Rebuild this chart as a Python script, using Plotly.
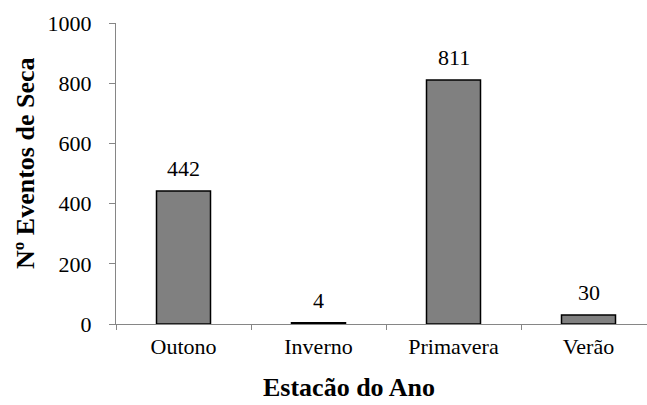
import plotly.graph_objects as go

# Drought events per season
seasons = ["Outono", "Inverno", "Primavera", "Verão"]
events = [442, 4, 811, 30]
y_ticks = [0, 200, 400, 600, 800, 1000]

W, H = 647, 405
L, R, T, B = 116, 0, 23, 81
plot_w = W - L - R
plot_h = H - T - B

FONT = '"Liberation Serif", "Times New Roman", serif'
AXIS_GRAY = "#868686"

fig = go.Figure()
fig.add_trace(go.Bar(
    x=seasons,
    y=events,
    width=0.4,
    marker=dict(color="#808080", line=dict(color="#000000", width=1.5)),
    hoverinfo="x+y",
))

# value labels above each bar
for s, v in zip(seasons, events):
    fig.add_annotation(
        x=s, y=v, text=str(v), showarrow=False,
        yanchor="bottom", yshift=8,
        font=dict(family=FONT, size=22, color="#000000"),
    )


def px_to_paper_x(px):
    return (px - L) / plot_w


def px_to_paper_y(py):
    return (H - B - py) / plot_h


# axis titles
fig.add_annotation(
    x=px_to_paper_x(349), y=px_to_paper_y(387), xref="paper", yref="paper",
    text="<b>Estacão do Ano</b>", showarrow=False,
    xanchor="center", yanchor="middle",
    font=dict(family=FONT, size=26, color="#000000"),
)
fig.add_annotation(
    x=px_to_paper_x(25), y=px_to_paper_y(163), xref="paper", yref="paper",
    text="<b>Nº Eventos de Seca</b>", showarrow=False, textangle=-90,
    xanchor="center", yanchor="middle",
    font=dict(family=FONT, size=26, color="#000000"),
)

fig.update_layout(
    width=W, height=H,
    margin=dict(l=L, r=R, t=T, b=B, pad=0),
    paper_bgcolor="#ffffff",
    plot_bgcolor="#ffffff",
    showlegend=False,
    bargap=0.6,
    font=dict(family=FONT, size=22, color="#000000"),
)

fig.update_xaxes(
    type="category",
    range=[-0.5, -0.5 + plot_w / 135.0],
    showline=True, linecolor=AXIS_GRAY, linewidth=1,
    ticks="outside", tickson="boundaries", ticklen=5, tickcolor=AXIS_GRAY,
    showgrid=False, zeroline=False,
    tickfont=dict(family=FONT, size=22, color="#000000"),
    ticklabelstandoff=3,
)
fig.update_yaxes(
    range=[0, 1000],
    tickvals=y_ticks,
    ticktext=[str(t) for t in y_ticks],
    showline=True, linecolor=AXIS_GRAY, linewidth=1,
    ticks="outside", ticklen=6, tickcolor=AXIS_GRAY,
    showgrid=False, zeroline=False,
    tickfont=dict(family=FONT, size=22, color="#000000"),
    ticklabelstandoff=13,
)

fig.write_html("out.html")
